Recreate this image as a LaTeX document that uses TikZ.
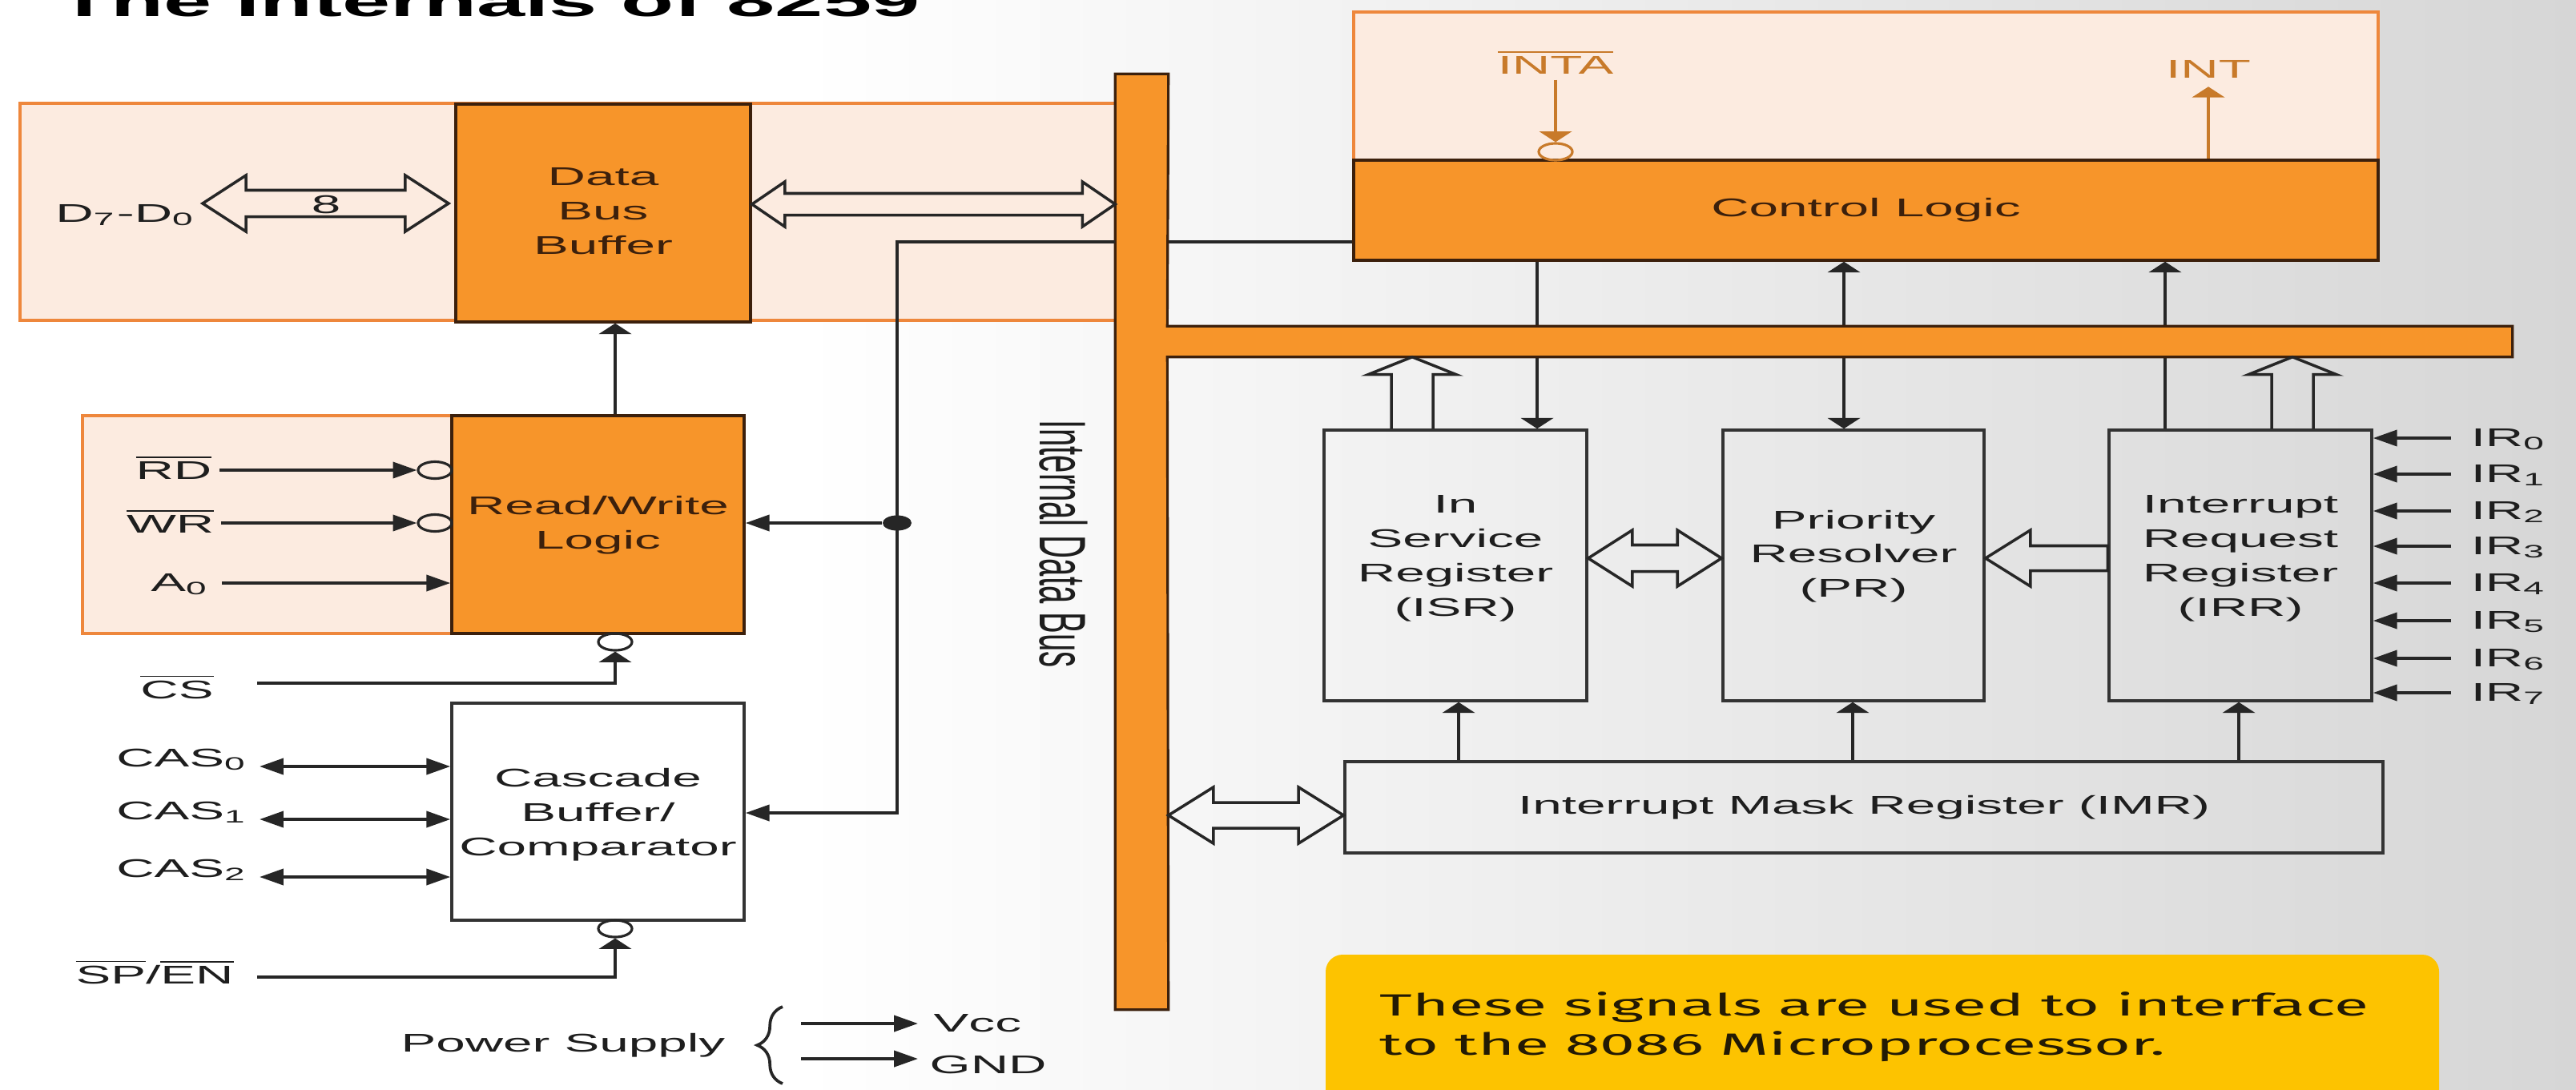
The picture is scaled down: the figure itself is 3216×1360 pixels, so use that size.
\documentclass[tikz,border=0pt]{standalone}
\usepackage{fontspec}
\usepackage{graphicx}
\setmainfont{Liberation Sans}
\newfontfamily\notefont{Fira Sans}
\usetikzlibrary{arrows.meta,fit,calc,shapes.geometric,decorations.pathreplacing}
\definecolor{orF}{RGB}{247,149,42}
\definecolor{pinkF}{RGB}{252,235,224}
\definecolor{pinkD}{RGB}{238,135,60}
\definecolor{darkB}{RGB}{60,32,12}
\definecolor{brownT}{RGB}{200,122,42}
\definecolor{yelF}{RGB}{253,195,0}
\definecolor{txtC}{RGB}{30,30,30}
\definecolor{bgR}{RGB}{214,214,214}
\definecolor{noteT}{RGB}{35,26,4}
\newcommand\SX[1]{\scalebox{2.05}[1]{#1}}
\newcommand\ovl[1]{$\overline{\mbox{#1}}$}
\newcommand\lines[1]{\SX{\begin{tabular}{@{}c@{}}#1\end{tabular}}}
\newcommand\hdouble[5]{\draw[hollow] let \p1=(#1), \p2=(#2) in (\x1,\y1) -- ({\x1+#3},{\y1+#4}) -- ({\x1+#3},{\y1+#5}) -- ({\x2-#3},{\y1+#5}) -- ({\x2-#3},{\y1+#4}) -- (\x2,\y1) -- ({\x2-#3},{\y1-#4}) -- ({\x2-#3},{\y1-#5}) -- ({\x1+#3},{\y1-#5}) -- ({\x1+#3},{\y1-#4}) -- cycle;}
\newcommand\hsingle[5]{\draw[hollow] let \p1=(#1), \p2=(#2) in (\x1,\y1) -- ({\x1+#3},{\y1+#4}) -- ({\x1+#3},{\y1+#5}) -- (\x2,{\y1+#5}) -- (\x2,{\y1-#5}) -- ({\x1+#3},{\y1-#5}) -- ({\x1+#3},{\y1-#4}) -- cycle;}
\newcommand\hup[2]{\draw[hollow] let \p1=(#1), \p2=(#2) in ({\x1-0.26cm},\y1) -- ({\x1-0.26cm},{\y2-0.22cm}) -- ({\x1-0.55cm},{\y2-0.22cm}) -- (\x2,\y2) -- ({\x1+0.55cm},{\y2-0.22cm}) -- ({\x1+0.26cm},{\y2-0.22cm}) -- ({\x1+0.26cm},\y1);}
\begin{document}
\begin{tikzpicture}[x=0.01cm, y=-0.01cm,
  lbl/.style={inner sep=0pt, text=txtC, font=\fontsize{9.1}{12.2}\selectfont},
  blbl/.style={inner sep=0pt, text=brownT, font=\fontsize{9.1}{12.2}\selectfont},
  otext/.style={inner sep=0pt, text=darkB, font=\fontsize{9.1}{12.2}\selectfont},
  wtext/.style={inner sep=0pt, text=txtC, font=\fontsize{9.1}{12.2}\selectfont},
  obox/.style={draw=darkB, fill=orF, line width=1pt, inner sep=0pt},
  wbox/.style={draw=black!80, line width=1pt, inner sep=0pt},
  pbox/.style={draw=pinkD, fill=pinkF, line width=1.2pt, inner sep=0pt},
  ghost/.style={inner sep=0pt},
  ln/.style={line width=1.05pt, draw=black!85},
  ha/.style={ln, -{Triangle[length=8.5pt,width=5.7pt]}},
  hab/.style={ln, {Triangle[length=8.5pt,width=5.7pt]}-{Triangle[length=8.5pt,width=5.7pt]}},
  va/.style={ln, -{Triangle[length=3.8pt,width=11.5pt]}},
  vab/.style={ln, {Triangle[length=3.8pt,width=11.5pt]}-{Triangle[length=3.8pt,width=11.5pt]}},
  hollow/.style={draw=black!85, line width=1pt, line join=miter},
  bub/.style={ellipse, draw=black!85, line width=0.9pt, minimum width=0.42cm, minimum height=0.21cm, inner sep=0pt},
  dotn/.style={ellipse, fill=black!85, minimum width=0.36cm, minimum height=0.19cm, inner sep=0pt}]
\useasboundingbox (0,0) rectangle (3216,1360);
\clip (0,0) rectangle (3216,1360);
\fill[white] (0,0) rectangle (3216,1360);
\shade[left color=white, right color=bgR] (1000,0) rectangle (3216,1360);

% title (cut off at the top)
\node[anchor=base west, inner sep=0pt, font=\bfseries\fontsize{15}{17}\selectfont] (title) at (72,20) {\SX{The Internals of 8259}};

% pink regions
\node[pbox, fit={(25,129) (1395,400)}] (pinkTL) {};
\node[pbox, fit={(103,519) (564,791)}] (pinkRW) {};
\node[pbox, fit={(1690,15) (2969,200)}] (pinkCL) {};

% blocks
\node[obox, fit={(569,130) (937,402)}] (dbb) {};
\node[obox, fit={(564,519) (929,791)}] (rw) {};
\node[wbox, fit={(564,878) (929,1149)}] (cas) {};
\node[obox, fit={(1690,200) (2969,325)}] (cl) {};
\node[wbox, fit={(1653,537) (1981,875)}] (isr) {};
\node[wbox, fit={(2151,537) (2477,875)}] (pr) {};
\node[wbox, fit={(2633,537) (2961,875)}] (irr) {};
\node[wbox, fit={(1679,951) (2975,1065)}] (imr) {};
\node[fill=yelF, rounded corners=6pt, inner sep=0pt, fit={(1655,1192) (3045,1400)}] (note) {};

% block texts
\node[otext] (dbbT) at (dbb.center) {\lines{Data\\Bus\\Buffer}};
\node[otext] (rwT) at (rw.center) {\lines{Read/Write\\Logic}};
\node[wtext] (casT) at ([yshift=-1pt]cas.center) {\lines{Cascade\\Buffer/\\Comparator}};
\node[otext] (clT) at (cl.center) {\SX{Control Logic}};
\node[wtext] (isrT) at ([yshift=2.8pt]isr.center) {\lines{In\\Service\\Register\\(ISR)}};
\node[wtext] (prT) at ([yshift=3.3pt]pr.center) {\lines{Priority\\Resolver\\(PR)}};
\node[wtext] (irrT) at ([yshift=2.8pt]irr.center) {\lines{Interrupt\\Request\\Register\\(IRR)}};
\node[wtext] (imrT) at (imr.center) {\SX{Interrupt Mask Register (IMR)}};

% bus outline nodes
\node[ghost, fit={(1393,93) (1458,1260)}] (vbus) {};
\node[ghost, fit={(1458,408) (3136,445)}] (hbus) {};

% lines crossing the horizontal bus
\coordinate (c1) at (1919,0);
\coordinate (c2) at (2302,0);
\coordinate (c3) at (2703,0);
\draw[va] (cl.south -| c1) -- (isr.north -| c1);
\draw[vab] (cl.south -| c2) -- (pr.north -| c2);
\draw[va] (irr.north -| c3) -- (cl.south -| c3);

% internal data bus
\filldraw[fill=orF, draw=darkB, line width=0.9pt] (vbus.north west) -- (vbus.north east) -- (hbus.north west) -- (hbus.north east) -- (hbus.south east) -- (hbus.south west) -- (vbus.south east) -- (vbus.south west) -- cycle;
\node[inner sep=0pt, text=txtC, font=\fontsize{11.4}{13}\selectfont, rotate=-90] (ibus) at (1328,679) {\scalebox{1}[2.05]{Internal Data Bus}};

% data bus buffer side
\node[lbl, anchor=base east] (d70) at (245,277) {\SX{D\textsubscript{7}-D\textsubscript{0}}};
\coordinate (d7L) at (253,254);
\coordinate (d7R) at (560,254);
\hdouble{d7L}{d7R}{0.54cm}{0.35cm}{0.165cm}
\node[lbl] (eight) at (407,255) {\SX{8}};
\coordinate (y255) at (0,255);
\hdouble{dbb.east |- y255}{vbus.west |- y255}{0.41cm}{0.28cm}{0.135cm}

% read/write inputs
\node[lbl, anchor=base east] (rd) at (265,598) {\SX{\ovl{RD}}};
\node[bub] (rdb) at (543,587) {};
\coordinate (rdS) at (274,587);
\draw[ha] (rdS) -- (rdb.west);
\node[lbl, anchor=base east] (wr) at (268,665) {\SX{\ovl{WR}}};
\node[bub] (wrb) at (543,653) {};
\coordinate (wrS) at (276,653);
\draw[ha] (wrS) -- (wrb.west);
\node[lbl, anchor=base east] (a0) at (262,738) {\SX{A\textsubscript{0}}};
\coordinate (a0S) at (277,728);
\draw[ha] (a0S) -- (a0S -| rw.west);

% chip select
\node[lbl, anchor=base] (cs) at (221,872) {\SX{\ovl{CS}}};
\coordinate (csS) at (321,853);
\node[bub] (csb) at (768,801.5) {};
\draw[va] (csS) -| (csb.south);

% rw -> data bus buffer
\coordinate (c768) at (768,0);
\draw[va] (rw.north -| c768) -- (dbb.south -| c768);

% cascade lines
\node[lbl, anchor=base east] (cas0) at (310,957) {\SX{CAS\textsubscript{0}}};
\node[lbl, anchor=base east] (cas1) at (310,1023) {\SX{CAS\textsubscript{1}}};
\node[lbl, anchor=base east] (cas2) at (310,1095) {\SX{CAS\textsubscript{2}}};
\draw[hab] ([xshift=4pt]cas0.base east) -- (cas0.base east -| cas.west);
\draw[hab] ([xshift=4pt]cas1.base east) -- (cas1.base east -| cas.west);
\draw[hab] ([xshift=4pt]cas2.base east) -- (cas2.base east -| cas.west);

% SP/EN
\node[lbl, anchor=base west] (spen) at (94,1228) {\SX{\ovl{SP}/\ovl{EN}}};
\coordinate (spS) at (321,1220);
\node[bub] (spb) at (768,1159.5) {};
\draw[va] (spS) -| (spb.south);

% power supply
\node[lbl, anchor=base east] (ps) at (906,1313) {\SX{Power Supply}};
\draw[ln, decorate, decoration={brace, amplitude=9pt}] (977,1353) -- (977,1257);
\coordinate (vccS) at (1000,1278);
\coordinate (vccE) at (1146,1278);
\coordinate (gndS) at (1000,1322);
\coordinate (gndE) at (1146,1322);
\node[lbl, anchor=base west] (vcc) at (1165,1288) {\SX{Vcc}};
\node[lbl, anchor=base west] (gnd) at (1160,1340) {\SX{GND}};
\draw[ha] (vccS) -- (vccE);
\draw[ha] (gndS) -- (gndE);

% bus wiring on the left
\coordinate (w1) at (1120,302);
\coordinate (w2) at (1120,1015);
\draw[ha] (vbus.west |- w1) -- (w1) -- (w2) -- (w2 -| cas.east);
\node[dotn] (jn) at (1120,653) {};
\draw[ha] (jn) -- (jn -| rw.east);
\draw[ln] (vbus.east |- w1) -- (w1 -| cl.west);

% INTA / INT
\node[blbl, anchor=base] (inta) at (1942,92) {\SX{\ovl{INTA}}};
\node[bub, draw=brownT] (intab) at (1942,189.5) {};
\draw[va, draw=brownT] ([yshift=-2pt]inta.south) -- (intab.north);
\node[blbl, anchor=base] (int) at (2757,97) {\SX{INT}};
\draw[va, draw=brownT] (cl.north -| int.south) -- ([yshift=-3pt]int.south);

% hollow arrows to/from the bus and between registers
\coordinate (h1) at (1763,0);
\coordinate (h2) at (2862,0);
\hup{isr.north -| h1}{hbus.south -| h1}
\hup{irr.north -| h2}{hbus.south -| h2}
\coordinate (y697) at (0,697);
\hdouble{isr.east |- y697}{pr.west |- y697}{0.55cm}{0.35cm}{0.165cm}
\hsingle{pr.east |- y697}{irr.west |- y697}{0.56cm}{0.35cm}{0.155cm}
\coordinate (y1018) at (0,1018);
\hdouble{vbus.east |- y1018}{imr.west |- y1018}{0.56cm}{0.35cm}{0.16cm}

% interrupt request inputs
\foreach \i/\yy in {0/547,1/592,2/638,3/682,4/728,5/775,6/822,7/865} {
  \node[lbl, anchor=base west] (ir\i) at (3084,\yy+10) {\SX{IR\textsubscript{\i}}};
  \coordinate (irS\i) at (3060,\yy);
  \draw[ha] (irS\i) -- (irS\i -| irr.east);
}

% IMR outputs
\coordinate (m1) at (1821,0);
\coordinate (m2) at (2313,0);
\coordinate (m3) at (2795,0);
\draw[va] (imr.north -| m1) -- (isr.south -| m1);
\draw[va] (imr.north -| m2) -- (pr.south -| m2);
\draw[va] (imr.north -| m3) -- (irr.south -| m3);

% note
\node[anchor=base west, inner sep=0pt, text=noteT, font=\notefont\fontsize{10.9}{14}\selectfont] (note1) at (1722,1268) {\SX{These signals are used to interface}};
\node[anchor=base west, inner sep=0pt, text=noteT, font=\notefont\fontsize{10.9}{14}\selectfont] (note2) at (1722,1317) {\SX{to the 8086 Microprocessor.}};
\end{tikzpicture}
\end{document}
